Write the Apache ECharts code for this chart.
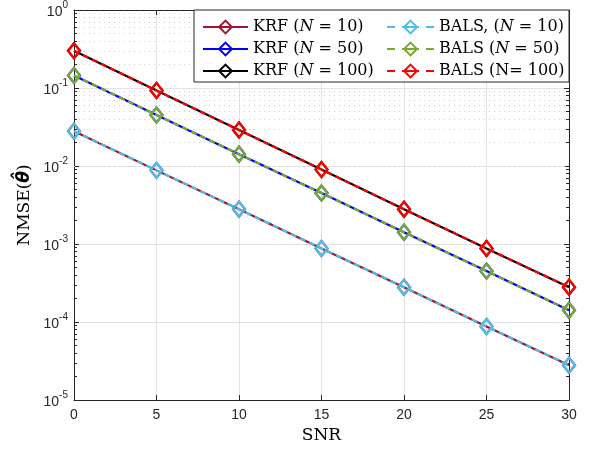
<!DOCTYPE html>
<html><head><meta charset="utf-8">
<script src="https://cdn.jsdelivr.net/npm/echarts@6/dist/echarts.min.js"></script>
<style>html,body{margin:0;padding:0;background:#fff}#c{width:590px;height:449px}</style>
</head><body><div id="c"></div>
<script>
const snr = [0, 5, 10, 15, 20, 25, 30];
const krf10 = [0.028, 0.0088, 0.0028, 0.00088, 0.00028, 0.000088, 0.000028];
const krf50 = [0.145, 0.045, 0.0142, 0.0045, 0.00142, 0.00045, 0.000142];
const krf100 = [0.30, 0.093, 0.029, 0.0090, 0.0028, 0.00088, 0.00028];
const bals10 = [0.028, 0.0088, 0.0028, 0.00088, 0.00028, 0.000088, 0.000028];
const bals50 = [0.145, 0.045, 0.0142, 0.0045, 0.00142, 0.00045, 0.000142];
const bals100 = [0.30, 0.093, 0.029, 0.0090, 0.0028, 0.00088, 0.00028];
const names = ['KRF (N = 10)', 'KRF (N = 50)', 'KRF (N = 100)', 'BALS, (N = 10)', 'BALS (N = 50)', 'BALS (N= 100)'];
const richNames = {
  'KRF (N = 10)': '{r|KRF (}{i|N}{r| = 10)}',
  'KRF (N = 50)': '{r|KRF (}{i|N}{r| = 50)}',
  'KRF (N = 100)': '{r|KRF (}{i|N}{r| = 100)}',
  'BALS, (N = 10)': '{r|BALS, (}{i|N}{r| = 10)}',
  'BALS (N = 50)': '{r|BALS (}{i|N}{r| = 50)}',
  'BALS (N= 100)': '{r|BALS (N= 100)}'
};
const colors = ['#A2142F', '#0000FF', '#000000', '#4DBEEE', '#77AC30', '#FF0000'];
const dataSets = [krf10, krf50, krf100, bals10, bals50, bals100];

const minorVals = [];
for (let e = -5; e < 0; e++) for (let m = 2; m <= 9; m++) minorVals.push(+(m * Math.pow(10, e)).toPrecision(3));

const serif = 'DejaVu Serif';
const sans = 'Liberation Sans';

const series = dataSets.map((d, i) => ({
  name: names[i],
  type: 'line',
  data: snr.map((x, j) => [x, d[j]]),
  symbol: 'diamond',
  symbolSize: [12, 15],
  showAllSymbol: true,
  z: 3 + i,
  lineStyle: { color: colors[i], width: 2.2, type: i < 3 ? 'solid' : [6, 4] },
  itemStyle: { color: 'rgba(255,255,255,0)', borderColor: colors[i], borderWidth: 2.2 },
  emphasis: { disabled: true },
  animation: false
}));
series.push({
  type: 'line', data: [], silent: true, z: 1,
  markLine: {
    silent: true, symbol: 'none', animation: false,
    label: { show: false },
    lineStyle: { color: '#cfcfcf', type: [1, 4], width: 1 },
    data: minorVals.map(v => ({ yAxis: v }))
  }
});
series.push({
  type: 'line', data: [], silent: true, z: 2,
  markLine: {
    silent: true, symbol: 'none', animation: false,
    label: { show: false },
    lineStyle: { color: '#262626', type: 'solid', width: 1 },
    data: minorVals.flatMap(v => [[{ coord: [0, v] }, { coord: [0.18, v] }], [{ coord: [29.82, v] }, { coord: [30, v] }]])
  }
});

const legendText = {
  fontFamily: serif, fontSize: 16, color: '#000', lineHeight: 16,
  rich: {
    r: { fontFamily: serif, fontSize: 16, color: '#000', lineHeight: 16 },
    i: { fontFamily: serif, fontStyle: 'italic', fontSize: 16, color: '#000', lineHeight: 16 }
  }
};

const option = {
  animation: false,
  backgroundColor: '#fff',
  grid: { left: 74, right: 21, top: 10, bottom: 47, show: false },
  xAxis: [{
    type: 'value', min: 0, max: 30, interval: 5,
    name: 'SNR', nameLocation: 'middle', nameGap: 23,
    nameTextStyle: { fontFamily: serif, fontSize: 17, color: '#000', verticalAlign: 'top' },
    axisLine: { show: true, onZero: false, lineStyle: { color: '#262626', width: 1 } },
    axisTick: { inside: true, length: 5, lineStyle: { color: '#262626' } },
    axisLabel: { fontFamily: sans, fontSize: 14, color: '#262626', margin: 8 },
    splitLine: { show: true, lineStyle: { color: '#e3e3e3', width: 1 } }
  }, {
    type: 'value', min: 0, max: 30, interval: 5, position: 'top',
    axisLine: { show: true, onZero: false, lineStyle: { color: '#262626', width: 1 } },
    axisTick: { inside: true, length: 5, lineStyle: { color: '#262626' } },
    axisLabel: { show: false }, splitLine: { show: false }
  }],
  yAxis: [{
    type: 'log', logBase: 10, min: 1e-5, max: 1,
    name: '{r|NMSE(}{t|\u03B8\u0302}{r|)}', nameLocation: 'middle', nameGap: 30, nameRotate: 90,
    nameTextStyle: {
      fontFamily: serif, fontSize: 17, color: '#000', verticalAlign: 'bottom',
      rich: {
        r: { fontFamily: serif, fontSize: 17, color: '#000' },
        t: { fontFamily: 'DejaVu Sans', fontSize: 17, fontWeight: 'bold', fontStyle: 'italic', color: '#000' }
      }
    },
    axisLine: { show: true, onZero: false, lineStyle: { color: '#262626', width: 1 } },
    axisTick: { inside: true, length: 5, lineStyle: { color: '#262626' } },
    minorTick: { show: false },
    axisLabel: {
      margin: 6,
      formatter: v => '{b|10}{s|' + Math.round(Math.log10(v)) + '}',
      rich: {
        b: { fontFamily: sans, fontSize: 14, color: '#262626', verticalAlign: 'bottom' },
        s: { fontFamily: sans, fontSize: 10, color: '#262626', verticalAlign: 'top', padding: [0, 0, 9, 0] }
      }
    },
    splitLine: { show: true, lineStyle: { color: '#e3e3e3', width: 1 } }
  }, {
    type: 'log', logBase: 10, min: 1e-5, max: 1, position: 'right',
    axisLine: { show: true, onZero: false, lineStyle: { color: '#262626', width: 1 } },
    axisTick: { inside: true, length: 5, lineStyle: { color: '#262626' } },
    axisLabel: { show: false }, splitLine: { show: false }
  }],
  graphic: [{
    type: 'rect', z: 10, silent: true,
    shape: { x: 194, y: 10, width: 375, height: 72 },
    style: { fill: '#fff', stroke: '#262626', lineWidth: 1 }
  }],
  legend: [{
    data: names.slice(0, 3), orient: 'vertical', left: 197, top: 14, z: 20,
    itemWidth: 45, itemHeight: 16, itemGap: 6,
    formatter: n => richNames[n], textStyle: legendText
  }, {
    data: names.slice(3), orient: 'vertical', left: 381, top: 14, z: 20,
    itemWidth: 47, itemHeight: 16, itemGap: 6,
    lineStyle: { type: [8, 7, 17, 7] },
    formatter: n => richNames[n], textStyle: legendText
  }],
  series: series
};
const chart = echarts.init(document.getElementById('c'), null, { renderer: 'canvas' });
chart.setOption(option);
</script></body></html>
